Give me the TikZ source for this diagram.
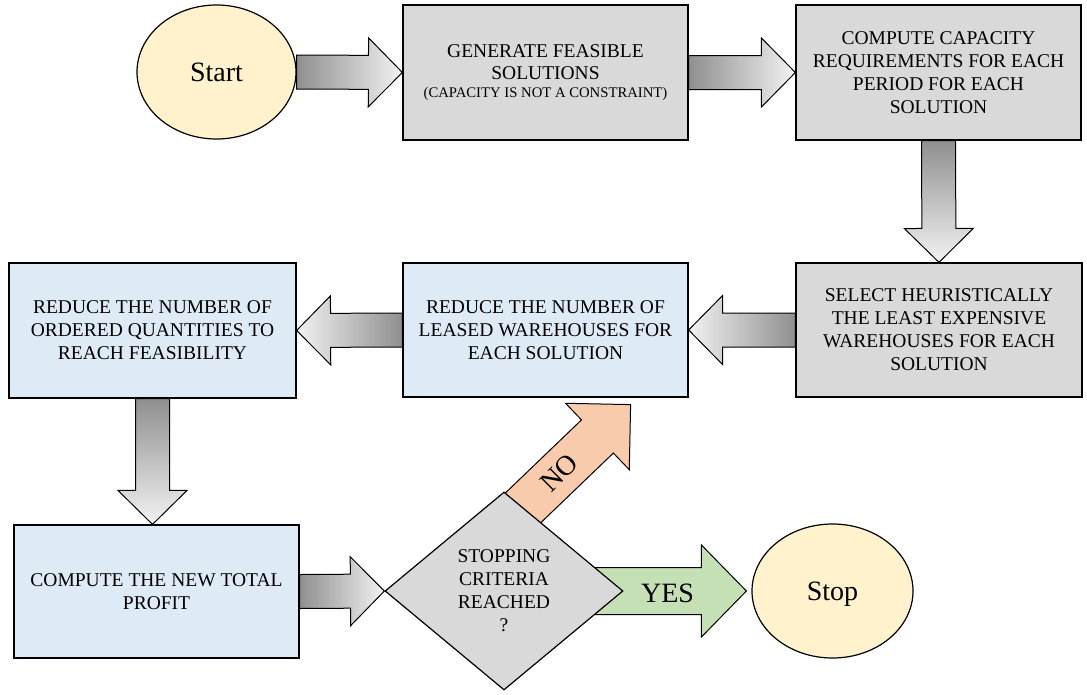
\documentclass[tikz,border=0pt]{standalone}
\usepackage{fontspec}
\setmainfont{Liberation Serif}
\usetikzlibrary{shapes.geometric,calc}
\pgfdeclarelayer{bg}
\pgfsetlayers{bg,main}
\definecolor{boxgray}{HTML}{D9D9D9}
\definecolor{boxblue}{HTML}{DEEBF7}
\definecolor{termyellow}{HTML}{FFF2CC}
\definecolor{yesgreen}{HTML}{C5E0B4}
\definecolor{noorange}{HTML}{F8CBAD}
\definecolor{arrdark}{HTML}{8F8F8F}
\definecolor{arrlight}{HTML}{F2F2F2}
\newcommand\blockarrow[6]{%
  \coordinate (ba-b) at ($(#3)!#6!(#2)$);
  \path[#1] ($(#2)!#4!90:(#3)$) -- ($(ba-b)!#4!90:(#3)$) -- ($(ba-b)!#5!90:(#3)$) -- (#3)
    -- ($(ba-b)!#5!-90:(#3)$) -- ($(ba-b)!#4!-90:(#3)$) -- ($(#2)!#4!-90:(#3)$) -- cycle;
}
\begin{document}
\begin{tikzpicture}[x=1pt,y=-1pt,
  boxtext/.style={font=\fontsize{19.5}{23}\selectfont, align=center, inner sep=0pt},
  graybox/.style={boxtext, draw=black, line width=1.2pt, fill=boxgray, minimum width=285pt, minimum height=135pt},
  bluebox/.style={boxtext, draw=black, line width=1.2pt, fill=boxblue, minimum width=285pt, minimum height=135pt},
  term/.style={ellipse, draw=black, line width=1.2pt, fill=termyellow, inner sep=0pt, text depth=0pt, font=\fontsize{28}{32}\selectfont},
  decision/.style={diamond, boxtext, draw=black, line width=1.2pt, fill=boxgray, minimum width=238pt, minimum height=198pt, aspect=1.2},
  arrowR/.style={draw=black, line width=1pt, left color=arrdark, right color=arrlight},
  arrowL/.style={draw=black, line width=1pt, left color=arrlight, right color=arrdark},
  arrowD/.style={draw=black, line width=1pt, top color=arrdark, bottom color=arrlight},
  yesarrow/.style={draw=black, line width=1pt, fill=yesgreen},
  noarrow/.style={draw=black, line width=1pt, fill=noorange},
  biglabel/.style={font=\fontsize{28}{32}\selectfont, inner sep=0pt}
]
\useasboundingbox (0,0) rectangle (1087,694);

\node[term, minimum width=159pt, minimum height=134pt] (start) at (216.5,72) {Start};
\node[graybox] (gen) at (545.5,72.5) {GENERATE FEASIBLE\\[-1.5pt]SOLUTIONS\\[-5pt]{\fontsize{14.7}{17}\selectfont (CAPACITY IS NOT A CONSTRAINT)}};
\node[graybox] (comp) at (938.5,72.5) {COMPUTE CAPACITY\\REQUIREMENTS FOR EACH\\PERIOD FOR EACH\\SOLUTION};
\node[graybox, minimum width=286pt, minimum height=134pt] (sel) at (939,330) {SELECT HEURISTICALLY\\THE LEAST EXPENSIVE\\WAREHOUSES FOR EACH\\SOLUTION};
\node[bluebox, minimum height=134pt] (leased) at (545.5,330) {REDUCE THE NUMBER OF\\LEASED WAREHOUSES FOR\\EACH SOLUTION};
\node[bluebox, minimum width=287pt] (ordered) at (152.5,330.5) {REDUCE THE NUMBER OF\\ORDERED QUANTITIES TO\\REACH FEASIBILITY};
\node[bluebox, minimum height=133pt] (profit) at (156.5,591.5) {COMPUTE THE NEW TOTAL\\PROFIT};
\node[decision] (dia) at (504,591) {STOPPING\\CRITERIA\\REACHED\\?};
\node[term, minimum width=161pt, minimum height=134pt] (stop) at (832.5,591) {Stop};

\coordinate (ptop) at (ordered.south |- profit.north);
\coordinate (yestip) at ($(stop.west)+(-5,0)$);
\coordinate (notail) at ($(dia.north)+(6,29)$);
\coordinate (notip) at ($(leased.south east)+(-58,7)$);

\begin{pgfonlayer}{bg}
\blockarrow{arrowR}{start.east}{gen.west}{17pt}{34.5pt}{34pt}
\blockarrow{arrowR}{gen.east}{comp.west}{17pt}{34.5pt}{34pt}
\blockarrow{arrowD}{comp.south}{sel.north}{17pt}{34.5pt}{34pt}
\blockarrow{arrowL}{sel.west}{leased.east}{17pt}{34.5pt}{34pt}
\blockarrow{arrowL}{leased.west}{ordered.east}{17pt}{34.5pt}{34pt}
\blockarrow{arrowD}{ordered.south}{ptop}{17pt}{34.5pt}{34pt}
\blockarrow{arrowR}{profit.east}{dia.west}{17pt}{34.5pt}{34pt}
\blockarrow{yesarrow}{dia.center}{yestip}{23.5pt}{46pt}{45pt}
\blockarrow{noarrow}{notail}{notip}{23pt}{46pt}{46pt}
\end{pgfonlayer}

\node[biglabel] (yeslab) at ($(dia.east)+(44,2)$) {YES};
\node[biglabel, rotate=45] (nolab) at ($(notail)!0.41!(notip)$) {NO};
\end{tikzpicture}
\end{document}
